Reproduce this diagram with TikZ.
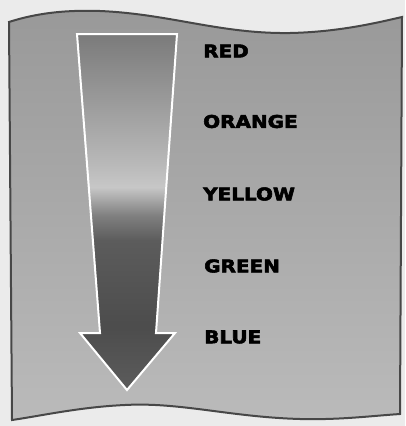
\documentclass[tikz,border=0pt]{standalone}
\usepackage{fontspec}
\newfontfamily\heavyfont[FakeBold=3]{DejaVu Sans Bold}
\colorlet{ashA}{black!64}
\colorlet{ashB}{black!70}
\colorlet{ashC}{black!64}
\colorlet{ashD}{black!50}
\colorlet{ashE}{black!22}
\colorlet{ashF}{black!28}
\colorlet{ashG}{black!52}
\pgfdeclareverticalshading{arrowshade}{100bp}{color(0bp)=(ashA); color(25bp)=(ashA); color(34bp)=(ashB); color(46bp)=(ashC); color(49.5bp)=(ashD); color(53.5bp)=(ashE); color(57bp)=(ashF); color(75bp)=(ashG); color(100bp)=(ashG)}
\tikzset{
  label/.style={font=\heavyfont\fontsize{17.5}{17.5}\selectfont, text=black, anchor=west, inner sep=0pt, xscale=1.14},
  flagshape/.style={draw=black!72, line width=2pt, left color=black!40, right color=black!27, shading angle=0},
  arrowshape/.style={draw=white, line width=2pt, shading=arrowshade, line join=miter}
}
\begin{document}
\begin{tikzpicture}[x=1pt,y=-1pt]
\fill[black!8] (0,0) rectangle (405,426);
\useasboundingbox (0,0) rectangle (405,426);
% flag
\path[flagshape]
  (9,22) .. controls (40,12) and (70,10) .. (100,11)
  .. controls (170,14) and (220,34) .. (290,33)
  .. controls (340,32) and (380,22) .. (402,17)
  -- (400,414)
  .. controls (370,416) and (340,420) .. (300,419)
  .. controls (230,417) and (180,402) .. (125,405)
  .. controls (80,407) and (40,416) .. (12,420) -- cycle;
% arrow
\path[arrowshape] (77,34) -- (177,34) -- (156,333) -- (175,333) -- (127,390) -- (80,333) -- (100,333) -- cycle;
% labels
\node[label] (red) at (203,51) {RED};
\node[label] (orange) at (203,121.5) {ORANGE};
\node[label] (yellow) at (203,194) {YELLOW};
\node[label] (green) at (204,266) {GREEN};
\node[label] (blue) at (204,337) {BLUE};
\end{tikzpicture}
\end{document}
